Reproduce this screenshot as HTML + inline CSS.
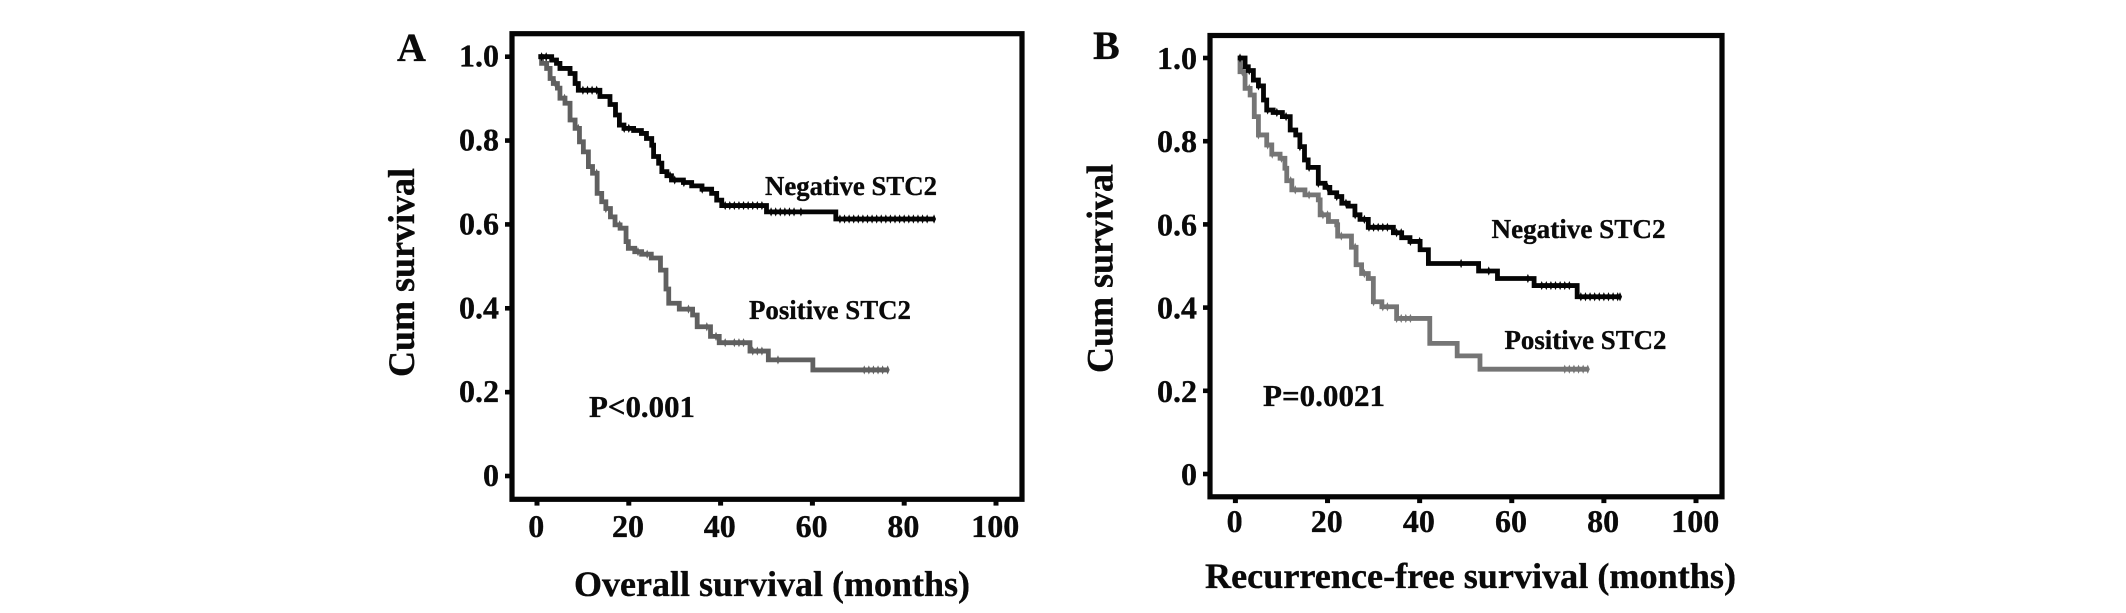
<!DOCTYPE html>
<html lang="en">
<head>
<meta charset="utf-8">
<title>Survival curves by STC2 status</title>
<style>
html,body{margin:0;padding:0;background:#fff;width:2126px;height:613px;overflow:hidden}
svg{display:block}
text{font-family:"Liberation Serif",serif;font-weight:bold;fill:#0a0a0a;stroke:#0a0a0a;stroke-width:0.35px}
</style>
</head>
<body>
<svg id="figure" width="2126" height="613" viewBox="0 0 2126 613" xmlns="http://www.w3.org/2000/svg">
  <rect x="0" y="0" width="2126" height="613" fill="#fff"/>

  <g id="panelA"></g>
  <text x="397" y="61" font-size="40">A</text>
  <text transform="translate(414,377) rotate(-90)" font-size="37" textLength="209" lengthAdjust="spacingAndGlyphs">Cum survival</text>
  <text x="574" y="596" font-size="36" textLength="396" lengthAdjust="spacingAndGlyphs">Overall survival (months)</text>
  <text x="765" y="195" font-size="27" textLength="172" lengthAdjust="spacingAndGlyphs">Negative STC2</text>
  <text x="749" y="319" font-size="27" textLength="162" lengthAdjust="spacingAndGlyphs">Positive STC2</text>
  <text x="589" y="417" font-size="31" textLength="106" lengthAdjust="spacingAndGlyphs">P&lt;0.001</text>

  <g id="panelB"></g>
  <text x="1093" y="59" font-size="40">B</text>
  <text transform="translate(1112.5,373) rotate(-90)" font-size="37" textLength="209" lengthAdjust="spacingAndGlyphs">Cum survival</text>
  <text x="1205" y="588" font-size="36" textLength="531" lengthAdjust="spacingAndGlyphs">Recurrence-free survival (months)</text>
  <text x="1491.5" y="238" font-size="27" textLength="174" lengthAdjust="spacingAndGlyphs">Negative STC2</text>
  <text x="1504.5" y="349" font-size="27" textLength="162" lengthAdjust="spacingAndGlyphs">Positive STC2</text>
  <text x="1263" y="406" font-size="31" textLength="122" lengthAdjust="spacingAndGlyphs">P=0.0021</text>
</svg>
<script>
// Shared axis values
const xTickValues = [0, 20, 40, 60, 80, 100];
const xTickLabels = ["0", "20", "40", "60", "80", "100"];
const yTickValues = [0, 0.2, 0.4, 0.6, 0.8, 1];
const yTickLabels = ["0", "0.2", "0.4", "0.6", "0.8", "1.0"];

// Panel A: overall survival
const aNegMonths = [0.3,3.2,4.25,5,7.2,8.3,9,13.7,15.9,17.1,17.95,18.95,21.05,22.75,23.85,25,25.4,26.5,27.2,28.3,29.3,31.9,33.7,35.95,38.05,39.15,40.25,50,65.1,86.7];
const aNegSurvival = [1,0.992,0.984,0.972,0.96,0.936,0.92,0.905,0.886,0.861,0.837,0.829,0.824,0.817,0.805,0.789,0.762,0.746,0.726,0.716,0.706,0.7,0.692,0.684,0.674,0.658,0.645,0.63,0.613,0.613];
const aNegCensored = [1,2,10,11,12,13,19,20,29,30,32,36,41,42,43,44,45,46,47,48,49,51,52,53,54,55,56,57.5,66,67,68,69,70,71,72,73,74,75,76,77,78,79,80,81,82,83,84,85,86.5];
const aPosMonths = [0.3,1,2.1,2.85,3.55,4.45,5,6.1,7.2,8.3,9.25,10.1,11.2,12.1,13.1,14.1,15,16,17,18.1,19.4,19.9,21.3,22.8,24.9,26.9,28.1,28.7,31,33.9,34.9,37.8,39.7,46.4,50.4,60.1,76.5];
const aPosSurvival = [1,0.984,0.972,0.948,0.936,0.925,0.901,0.889,0.849,0.829,0.797,0.773,0.738,0.722,0.674,0.654,0.638,0.618,0.599,0.591,0.559,0.543,0.535,0.529,0.52,0.491,0.446,0.412,0.398,0.384,0.356,0.333,0.318,0.298,0.277,0.253,0.253];
const aPosCensored = [2,4,6,9,13,15,18,22,24,33,37,39,41,43,44,45,47,48,49,52.5,71.3,72.3,73.3,74.3,75.3,76.4];

// Panel B: recurrence-free survival
const bNegMonths = [0.5,2.1,2.8,3.9,5,6.1,6.8,8.2,10.2,11.9,13.1,14,15,15.8,18,19.45,20.5,22,23.1,24.5,25.95,27.05,28.85,34.3,36.1,37.9,40.1,41.9,52.8,56.9,64.85,74.2,83.65];
const bNegSurvival = [1,0.979,0.97,0.947,0.933,0.899,0.875,0.869,0.859,0.827,0.815,0.787,0.755,0.737,0.699,0.689,0.676,0.667,0.651,0.644,0.623,0.612,0.593,0.58,0.568,0.559,0.539,0.506,0.488,0.47,0.453,0.426,0.426];
const bNegCensored = [1,3,5,7,9,11,14,16,18,20,22,24,26,28,29,30,31,32,33,35,36,38,40,49,55,63.5,66.5,67.5,68.5,69.5,70.5,71.5,72.5,75,76,77,78,79,80,81,82,83,83.5];
const bPosMonths = [0.5,1,2.1,3.2,4.1,5,6.8,7.9,9.7,10.75,11.15,12.25,15.1,18,18.4,20.2,22,22.2,25.2,26.2,27.4,28.85,29.95,31.8,35,42.2,48.15,53.1,76.6];
const bPosSurvival = [1,0.967,0.927,0.911,0.859,0.815,0.791,0.769,0.759,0.735,0.705,0.683,0.671,0.659,0.623,0.607,0.599,0.572,0.545,0.503,0.482,0.47,0.414,0.402,0.374,0.314,0.284,0.252,0.252];
const bPosCensored = [1.5,3,5,7,8,10,12,13,16,19,20,23,26,28,30,32,33,35,36,37,38,71.5,72.5,73.5,74.5,75.5,76.5];

const SVG_NS = "http://www.w3.org/2000/svg";

function linearScale(domainLow, domainHigh, rangeLow, rangeHigh) {
  return function (v) {
    return rangeLow + (v - domainLow) / (domainHigh - domainLow) * (rangeHigh - rangeLow);
  };
}

function survivalAt(months, survival, t) {
  let s = survival[0];
  for (let i = 0; i < months.length; i++) {
    if (months[i] <= t) s = survival[i];
  }
  return s;
}

function drawSeries(group, x, y, months, survival, censored, color, width, name) {
  let d = "M" + x(months[0]) + " " + y(survival[0]);
  for (let i = 1; i < months.length; i++) {
    d += "H" + x(months[i]) + "V" + y(survival[i]);
  }
  const line = document.createElementNS(SVG_NS, "path");
  
  
  line.setAttribute("d", d);
  line.setAttribute("fill", "none");
  line.setAttribute("stroke", color);
  line.setAttribute("stroke-width", width);
  line.setAttribute("stroke-linejoin", "miter");
  group.appendChild(line);

  censored.forEach(function (t) {
    const cx = x(t);
    const cy = y(survivalAt(months, survival, t));
    const mark = document.createElementNS(SVG_NS, "path");
    
    
    mark.setAttribute("d", "M" + cx + " " + (cy - 4.6) + "L" + (cx + 2) + " " + cy + "L" + cx + " " + (cy + 4.6) + "L" + (cx - 2) + " " + cy + "Z");
    mark.setAttribute("fill", color);
    group.appendChild(mark);
  });
}

function drawPanel(opts) {
  const group = document.getElementById(opts.id);
  const x = linearScale(0, 100, opts.x0, opts.x100);
  const y = linearScale(0, 1, opts.y0, opts.y1);
  const prefix = opts.prefix;

  const frame = document.createElementNS(SVG_NS, "rect");
  
  
  frame.setAttribute("x", opts.left);
  frame.setAttribute("y", opts.top);
  frame.setAttribute("width", opts.right - opts.left);
  frame.setAttribute("height", opts.bottom - opts.top);
  frame.setAttribute("fill", "#fff");
  frame.setAttribute("stroke", "#050505");
  frame.setAttribute("stroke-width", 5.2);
  group.appendChild(frame);

  xTickValues.forEach(function (v, i) {
    const tick = document.createElementNS(SVG_NS, "line");
    
    
    tick.setAttribute("x1", x(v));
    tick.setAttribute("x2", x(v));
    tick.setAttribute("y1", opts.bottom);
    tick.setAttribute("y2", opts.bottom + 6.3);
    tick.setAttribute("stroke", "#050505");
    tick.setAttribute("stroke-width", 5);
    group.appendChild(tick);

    const label = document.createElementNS(SVG_NS, "text");
    
    
    label.setAttribute("x", x(v) - 0.8);
    label.setAttribute("y", opts.xLabelBaseline);
    label.setAttribute("font-size", 32);
    label.setAttribute("text-anchor", "middle");
    label.textContent = xTickLabels[i];
    group.appendChild(label);
  });

  yTickValues.forEach(function (v, i) {
    const tick = document.createElementNS(SVG_NS, "line");
    
    
    tick.setAttribute("x1", opts.left - 7);
    tick.setAttribute("x2", opts.left);
    tick.setAttribute("y1", y(v));
    tick.setAttribute("y2", y(v));
    tick.setAttribute("stroke", "#050505");
    tick.setAttribute("stroke-width", 4.6);
    group.appendChild(tick);

    const label = document.createElementNS(SVG_NS, "text");
    
    
    label.setAttribute("x", opts.yLabelRight);
    label.setAttribute("y", y(v) + opts.yLabelOffset);
    label.setAttribute("font-size", 32);
    label.setAttribute("text-anchor", "end");
    label.textContent = yTickLabels[i];
    group.appendChild(label);
  });

  drawSeries(group, x, y, opts.posMonths, opts.posSurvival, opts.posCensored, opts.posColor, 4.8, prefix + '-positive-stc2');
  drawSeries(group, x, y, opts.negMonths, opts.negSurvival, opts.negCensored, "#050505", 4.8, prefix + '-negative-stc2');
}

drawPanel({
  id: "panelA", prefix: "panel-a",
  left: 512, right: 1022, top: 33.7, bottom: 499.3,
  x0: 537, x100: 996, y0: 476, y1: 56.7,
  xLabelBaseline: 537, yLabelRight: 499, yLabelOffset: 10,
  negMonths: aNegMonths, negSurvival: aNegSurvival, negCensored: aNegCensored,
  posMonths: aPosMonths, posSurvival: aPosSurvival, posCensored: aPosCensored,
  posColor: "#606060"
});

drawPanel({
  id: "panelB", prefix: "panel-b",
  left: 1210, right: 1722, top: 35.5, bottom: 496.8,
  x0: 1235.4, x100: 1696, y0: 474, y1: 58,
  xLabelBaseline: 532, yLabelRight: 1197, yLabelOffset: 11,
  negMonths: bNegMonths, negSurvival: bNegSurvival, negCensored: bNegCensored,
  posMonths: bPosMonths, posSurvival: bPosSurvival, posCensored: bPosCensored,
  posColor: "#757575"
});
</script>
</body>
</html>
